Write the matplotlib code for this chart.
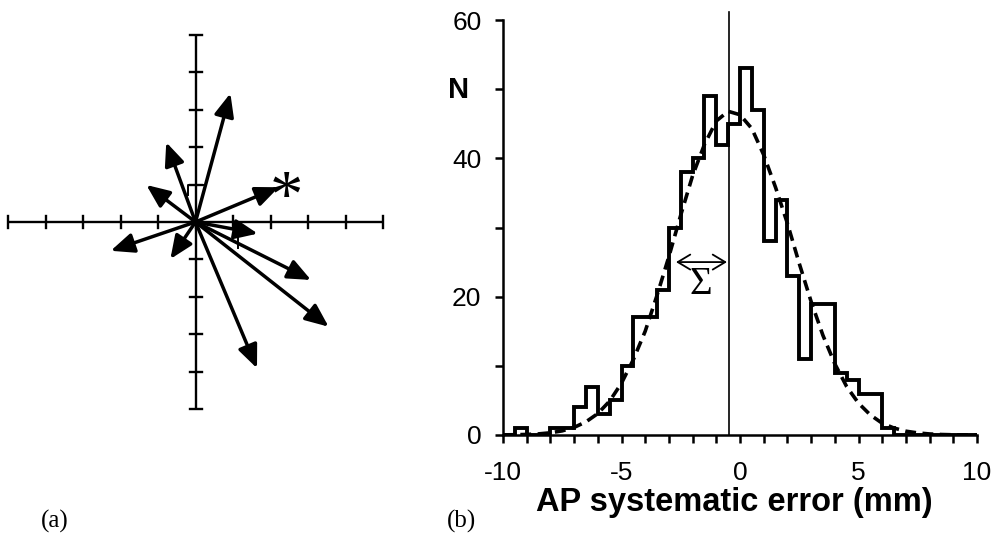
import numpy as np
import matplotlib
matplotlib.use("Agg")
import matplotlib.pyplot as plt
from matplotlib.ticker import MultipleLocator

# ---------------- data ----------------
# (a) vector plot: arrow tips (x, y) in grid units, all starting at origin
arrow_x = [0.93, -0.78, -1.31, 2.22, 1.66, -2.26, -0.67, 3.08, 3.55, 1.64]
arrow_y = [3.44, 2.13, 0.99, 0.93, -0.31, -0.77, -0.99, -1.55, -2.80, -3.91]
star_xy = (2.42, 0.80)
cross_ticks = [-5, -4, -3, -2, -1, 0, 1, 2, 3, 4, 5]

# (b) histogram of AP systematic error, bins of 0.5 mm from -10 to 10
bin_start = -10.0
bin_width = 0.5
counts = [0, 1, 0, 0, 1, 1, 4, 7, 3, 5,
          10, 17, 17, 21, 30, 38, 40, 49, 42, 45,
          53, 47, 28, 34, 23, 11, 19, 19, 9, 8,
          6, 6, 1, 0, 0, 0, 0, 0, 0, 0]
# fitted normal curve (dashed)
fit_x = [-10, -9.5, -9, -8.5, -8, -7.5, -7, -6.5, -6, -5.5, -5, -4.5, -4, -3.5,
         -3, -2.5, -2, -1.5, -1, -0.5, 0, 0.5, 1, 1.5, 2, 2.5, 3, 3.5, 4, 4.5,
         5, 5.5, 6, 6.5, 7, 7.5, 8, 8.5, 9, 9.5, 10]
fit_y = [0.02, 0.04, 0.08, 0.16, 0.32, 0.6, 1.1, 1.9, 3.1, 4.9, 7.5, 10.9, 15.0, 20.2,
         25.8, 31.8, 37.5, 42.0, 45.4, 46.8, 46.3, 44.3, 40.5, 35.8, 30.6, 24.8,
         19.3, 14.4, 10.3, 7.0, 4.6, 2.9, 1.7, 1.0, 0.55, 0.3, 0.15, 0.07, 0.03,
         0.01, 0.0]
mean_x = -0.47
sigma_arrow = (-2.7, -0.55, 25.0)
x_major = [-10, -5, 0, 5, 10]
y_major = [0, 20, 40, 60]

# ---------------- figure ----------------
W, H = 1002, 535
fig = plt.figure(figsize=(W / 100, H / 100), dpi=100)
sans = ["Liberation Sans", "DejaVu Sans"]
serif = ["Liberation Serif", "DejaVu Serif"]

# ---- panel (a) ----
ax1 = fig.add_axes([8 / W, (H - 409) / H, 375 / W, 374 / H])
ax1.set_xlim(-5, 5)
ax1.set_ylim(-5, 5)
ax1.axis("off")
lw_axis = 1.7
ax1.plot([-5, 5], [0, 0], color="black", lw=lw_axis, clip_on=False, solid_capstyle="butt")
ax1.plot([0, 0], [-5, 5], color="black", lw=lw_axis, clip_on=False, solid_capstyle="butt")
tl = 0.16
for t in cross_ticks:
    ax1.plot([t, t], [-tl, tl], color="black", lw=lw_axis, clip_on=False)
    ax1.plot([-tl, tl], [t, t], color="black", lw=lw_axis, clip_on=False)
# small marks
ax1.plot([-0.19, -0.19, 0.21], [0.72, 1.0, 1.0], color="black", lw=1.4, clip_on=False)
ax1.plot([1.13, 1.13], [-0.44, -0.70], color="black", lw=1.4, clip_on=False)

for tx, ty in zip(arrow_x, arrow_y):
    ax1.annotate("", xy=(tx, ty), xytext=(0, 0),
                 arrowprops=dict(arrowstyle="-|>,head_length=0.7,head_width=0.3",
                                 mutation_scale=20, lw=2.5, color="black",
                                 shrinkA=0, shrinkB=0))
ax1.text(star_xy[0], star_xy[1], "*", family=serif, fontsize=48,
         ha="center", va="center_baseline")

# ---- panel (b) ----
ax2 = fig.add_axes([503 / W, (H - 435) / H, 474 / W, 415 / H])
ax2.set_xlim(-10, 10)
ax2.set_ylim(0, 60)
edges = bin_start + bin_width * np.arange(len(counts) + 1)
ax2.stairs(counts, edges, color="black", lw=2.8, baseline=0, joinstyle="miter", zorder=3)
ax2.plot(fit_x, fit_y, color="black", lw=2.6, dashes=(3.0, 1.8), zorder=4)
ax2.plot([mean_x, mean_x], [0, 61.2], color="black", lw=1.2, clip_on=False, zorder=2)
ax2.annotate("", xy=(sigma_arrow[0], sigma_arrow[2]), xytext=(sigma_arrow[1], sigma_arrow[2]),
             arrowprops=dict(arrowstyle="<->,head_length=0.5,head_width=0.3",
                             mutation_scale=18, lw=1.3, color="black",
                             shrinkA=0, shrinkB=0))

for s in ["top", "right"]:
    ax2.spines[s].set_visible(False)
for s in ["left", "bottom"]:
    ax2.spines[s].set_linewidth(1.8)
ax2.set_xticks(x_major)
ax2.set_yticks(y_major)
ax2.xaxis.set_minor_locator(MultipleLocator(1))
ax2.yaxis.set_minor_locator(MultipleLocator(10))
ax2.tick_params(axis="both", which="both", direction="out", length=5.5, width=1.8)
ax2.tick_params(axis="x", which="major", pad=13)
ax2.tick_params(axis="y", which="major", pad=10)
for lab in ax2.get_xticklabels() + ax2.get_yticklabels():
    lab.set_fontfamily(sans)
    lab.set_fontsize(19)
ax2.set_xticklabels([str(v) for v in x_major])

fig.text(459 / W, 1 - 90 / H, "N", family=sans, fontsize=21, fontweight="bold",
         ha="center", va="center")
fig.text(734 / W, 1 - 503 / H, "AP systematic error (mm)", family=sans, fontsize=23.5,
         fontweight="bold", ha="center", va="center")
fig.text(701 / W, 1 - 284 / H, "\u03a3", family=serif, fontsize=28, ha="center", va="center")

fig.text(55 / W, 1 - 521 / H, "(a)", family=serif, fontsize=18, ha="center", va="center")
fig.text(462 / W, 1 - 521 / H, "(b)", family=serif, fontsize=18, ha="center", va="center")

fig.savefig("out.png", dpi=100)
